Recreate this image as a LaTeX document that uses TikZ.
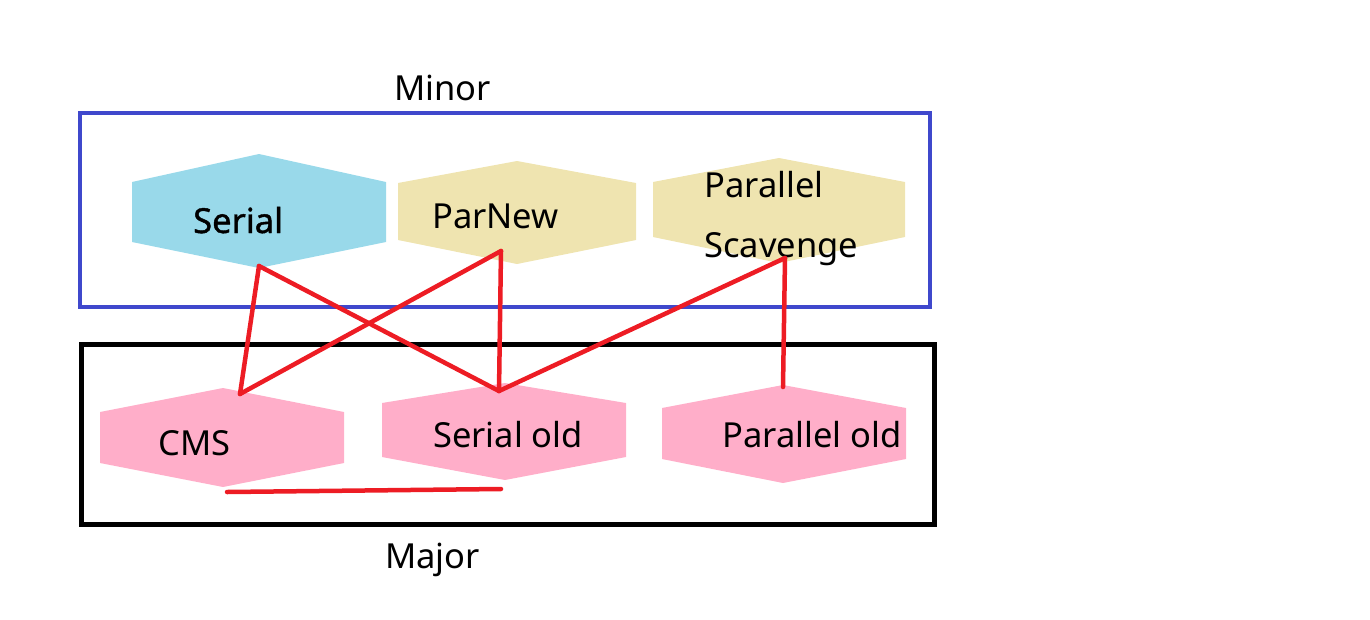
\documentclass[tikz,border=0pt]{standalone}
\usepackage{fontspec}
\setmainfont{Noto Sans}
\newfontfamily\boldnoto[FakeBold=1.2]{Noto Sans}
\definecolor{boxblue}{RGB}{63,72,204}
\definecolor{hexblue}{RGB}{153,217,234}
\definecolor{hexyellow}{RGB}{239,228,176}
\definecolor{hexpink}{RGB}{255,174,201}
\definecolor{linered}{RGB}{237,28,36}
\newcommand{\hexfill}[8]{%
  \fill[#8] (#2,#5) -- (#1,#4) -- (#3,#5) -- (#3,#6) -- (#1,#7) -- (#2,#6) -- cycle;}
\begin{document}
\begin{tikzpicture}[x=1pt,y=-1pt,
  lbl/.style={anchor=base west,inner sep=0pt,font=\fontsize{34.5}{40}\selectfont},
  link/.style={draw=linered,line width=4.5pt,line cap=round,line join=round}]
\useasboundingbox (0,0) rectangle (1370,619);
% frames
\draw[boxblue,line width=4pt] (80,113) rectangle (930,307);
\draw[black,line width=5pt] (81,344) rectangle (934,524);
% hexagons
\hexfill{259}{132}{386}{154}{182}{242}{268}{hexblue}
\hexfill{517}{398}{636}{161}{183}{240}{264}{hexyellow}
\hexfill{779}{653}{905}{158}{182}{237}{263}{hexyellow}
\hexfill{223}{100}{344}{388}{412}{463}{487}{hexpink}
\hexfill{505}{382}{626}{383}{403}{457}{480}{hexpink}
\hexfill{783}{662}{906}{385}{408}{459}{483}{hexpink}
% labels
\node[lbl] (minor) at (394,100) {Minor};
\node[lbl] (major) at (385,568) {Major};
\node[lbl,font=\fontsize{34.5}{40}\boldnoto] (serial) at (193,233) {Serial};
\node[lbl] (parnew) at (432,228) {ParNew};
\node[lbl] (parallel) at (704,197) {Parallel};
\node[lbl] (scavenge) at (704,257) {Scavenge};
\node[lbl] (cms) at (158,455) {CMS};
\node[lbl] (serialold) at (433,447) {Serial old};
\node[lbl] (parallelold) at (722,447) {Parallel old};
% connection points
\coordinate (sB) at (259,266);
\coordinate (pnB) at (501,251);
\coordinate (psB) at (785,258);
\coordinate (cmsT) at (240,394);
\coordinate (soT) at (499,391);
\coordinate (poT) at (783,387);
\coordinate (cmsB) at (227,492);
\coordinate (soB) at (501,489);
% connectors
\draw[link] (sB) -- (cmsT);
\draw[link] (sB) -- (soT);
\draw[link] (pnB) -- (cmsT);
\draw[link] (pnB) -- (soT);
\draw[link] (psB) -- (soT);
\draw[link] (psB) -- (poT);
\draw[link] (cmsB) -- (soB);
\end{tikzpicture}
\end{document}
